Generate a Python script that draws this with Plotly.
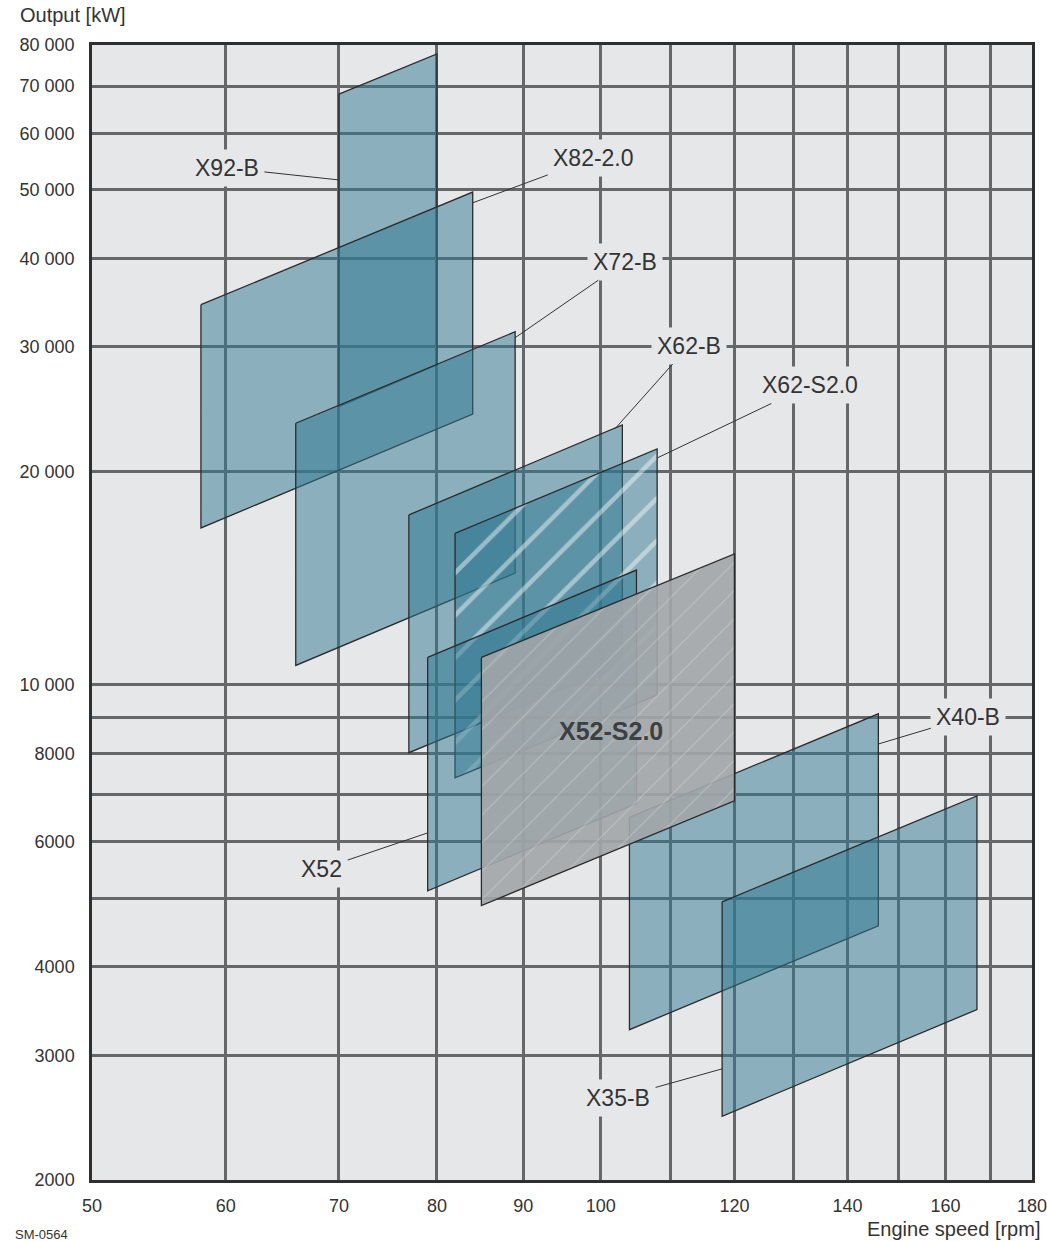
import math
import plotly.graph_objects as go

# ---------------- data ----------------
engines = ["X92-B", "X82-2.0", "X72-B", "X62-B", "X62-S2.0", "X52", "X40-B", "X35-B", "X52-S2.0"]
speed_min = [70, 58, 66, 77, 82, 79, 104, 118, 85]          # rpm
speed_max = [80, 84, 89, 103, 108, 105, 146, 167, 120]      # rpm
power_top_min = [68200, 34400, 23400, 17370, 16360, 10930, 6500, 4940, 10930]   # kW at min speed, top
power_top_max = [77700, 49600, 31500, 23270, 21530, 14520, 9100, 6970, 15300]   # kW at max speed, top
power_bot_min = [24700, 16650, 10650, 8020, 7390, 5120, 3260, 2460, 4880]       # kW at min speed, bottom
power_bot_max = [28300, 24100, 14380, 10670, 9670, 6800, 4570, 3480, 6860]      # kW at max speed, bottom

callout_names = ["X92-B", "X82-2.0", "X72-B", "X62-B", "X62-S2.0", "X52", "X40-B", "X35-B"]
callout_speed = [70, 84, 89, 102, 108, 79, 146, 118]
callout_power = [51600, 47900, 30900, 23000, 20900, 6180, 8250, 2870]
callout_dx = [-112, 121, 110, 74, 153, -106, 90, -104]
callout_dy = [-12, -45, -76, -83, -73, 36, -27, 29]

center_label = "X52-S2.0"
center_speed = 101.4
center_power = 8600

x_grid = [50, 60, 70, 80, 90, 100, 110, 120, 130, 140, 150, 160, 170, 180]
x_labels = ["50", "60", "70", "80", "90", "100", "", "120", "", "140", "", "160", "", "180"]
y_grid = [2000, 3000, 4000, 5000, 6000, 7000, 8000, 9000, 10000,
          20000, 30000, 40000, 50000, 60000, 70000, 80000]
y_labels = ["2000", "3000", "4000", "", "6000", "", "8000", "", "10 000",
            "20 000", "30 000", "40 000", "50 000", "60 000", "70 000", "80 000"]

# ---------------- style ----------------
BG = "#e6e7e9"
TEAL = "rgba(48,119,143,0.5)"
GRAY = "rgba(162,166,168,0.91)"
EDGE = "#2b2b2b"
GRID = "#65686b"
TXT = "#333333"
FONT = "Liberation Sans, Arial, sans-serif"
EPS = 1e-5

fig = go.Figure()
for i, name in enumerate(engines):
    xs = [speed_min[i], speed_max[i], speed_max[i], speed_min[i], speed_min[i]]
    ys = [power_top_min[i], power_top_max[i], power_bot_max[i], power_bot_min[i], power_top_min[i]]
    kw = {}
    if name == "X62-S2.0":
        kw["fillpattern"] = dict(shape="/", size=30, solidity=0.15, fgcolor="white",
                                 fgopacity=0.45, bgcolor=TEAL)
        fc = TEAL
    elif name == "X52-S2.0":
        kw["fillpattern"] = dict(shape="/", size=20, solidity=0.06, fgcolor="white",
                                 fgopacity=0.25, bgcolor=GRAY)
        fc = GRAY
    else:
        fc = TEAL
    fig.add_trace(go.Scatter(
        x=xs, y=ys, mode="lines", fill="toself", fillcolor=fc,
        line=dict(color=EDGE, width=1.3), name=name, hoverinfo="skip",
        showlegend=False, **kw))

annotations = []
for n, sx, py, dx, dy in zip(callout_names, callout_speed, callout_power, callout_dx, callout_dy):
    annotations.append(dict(
        x=math.log10(sx), y=math.log10(py), xref="x", yref="y",
        text=n, showarrow=True, ax=dx, ay=dy, arrowhead=0, arrowwidth=1,
        arrowcolor=TXT, standoff=0, startstandoff=0,
        bgcolor=BG, borderpad=5,
        font=dict(family=FONT, size=23, color=TXT)))

annotations.append(dict(
    x=math.log10(center_speed), y=math.log10(center_power), xref="x", yref="y",
    text="<b>" + center_label + "</b>", showarrow=False,
    font=dict(family=FONT, size=25, color="#3d4043")))

annotations.append(dict(x=-0.0787, y=1.0264, xref="paper", yref="paper",
                        text="Output [kW]", showarrow=False, xanchor="left", yanchor="middle",
                        font=dict(family=FONT, size=20, color=TXT)))
annotations.append(dict(x=1.0106, y=-0.0432, xref="paper", yref="paper",
                        text="Engine speed [rpm]", showarrow=False, xanchor="right", yanchor="middle",
                        font=dict(family=FONT, size=20, color=TXT)))
annotations.append(dict(x=-0.084, y=-0.0476, xref="paper", yref="paper",
                        text="SM-0564", showarrow=False, xanchor="left", yanchor="middle",
                        font=dict(family=FONT, size=13, color=TXT)))

fig.update_layout(
    width=1047, height=1241,
    margin=dict(l=92, r=15, t=45, b=61, autoexpand=False),
    paper_bgcolor="white", plot_bgcolor=BG,
    annotations=annotations,
    font=dict(family=FONT, color=TXT),
)
fig.update_xaxes(
    type="log", range=[math.log10(50) - EPS, math.log10(180) + EPS],
    tickmode="array", tickvals=x_grid, ticktext=x_labels,
    showgrid=True, gridcolor=GRID, gridwidth=2.5,
    showline=True, mirror=True, linecolor="#2f2f2f", linewidth=2.5,
    ticks="", ticklabelstandoff=8, ticklabeloverflow="allow", automargin=False,
    tickfont=dict(family=FONT, size=18, color=TXT),
    zeroline=False,
)
fig.update_yaxes(
    type="log", range=[math.log10(2000) - EPS, math.log10(80000) + EPS],
    tickmode="array", tickvals=y_grid, ticktext=y_labels,
    showgrid=True, gridcolor=GRID, gridwidth=2.5,
    showline=True, mirror=True, linecolor="#2f2f2f", linewidth=2.5,
    ticks="", ticklabelstandoff=11, ticklabeloverflow="allow", automargin=False,
    tickfont=dict(family=FONT, size=18, color=TXT),
    zeroline=False,
)

fig.write_html(
    "out.html",
    config={"displayModeBar": False},
    post_script="document.body.style.margin='0';document.body.style.overflow='hidden';",
)
